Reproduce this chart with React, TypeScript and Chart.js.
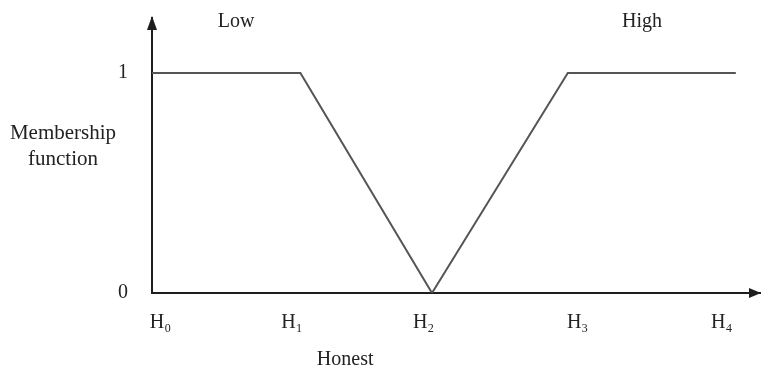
import React, { useEffect, useRef } from "react";
import { Chart, registerables } from "chart.js";

Chart.register(...registerables);

// Data
const lowX = [0, 1.06, 2.0];
const lowY = [1, 1, 0];
const highX = [2.0, 2.97, 4.17];
const highY = [0, 1, 1];
const xTickValues = [0.06, 1.0, 1.94, 3.04, 4.07];
const xTickLabels = ["H₀", "H₁", "H₂", "H₃", "H₄"];
const yTickValues = [0, 1];
const yTickLabels = ["0", "1"];
const setLabels = ["Low", "High"];
const yTitleLines = ["Membership", "function"];
const xTitle = "Honest";

const FONT = "'Liberation Serif', 'Times New Roman', serif";
const AXIS = "#1e1e1e";
const LINE = "#555555";
const TEXT = "#222222";

const decorPlugin = {
  id: "decor",
  afterDraw(chart: any) {
    const ctx = chart.ctx;
    const x = chart.scales.x;
    const y = chart.scales.y;
    const ca = chart.chartArea;
    ctx.save();
    // arrows
    ctx.fillStyle = AXIS;
    ctx.beginPath();
    ctx.moveTo(ca.left, ca.top - 2);
    ctx.lineTo(ca.left - 5, ca.top + 12);
    ctx.lineTo(ca.left + 5, ca.top + 12);
    ctx.closePath();
    ctx.fill();
    ctx.beginPath();
    ctx.moveTo(ca.right, y.getPixelForValue(0));
    ctx.lineTo(ca.right - 12, y.getPixelForValue(0) - 5);
    ctx.lineTo(ca.right - 12, y.getPixelForValue(0) + 5);
    ctx.closePath();
    ctx.fill();
    // texts
    ctx.fillStyle = TEXT;
    ctx.font = `20px ${FONT}`;
    ctx.textAlign = "center";
    ctx.textBaseline = "middle";
    ctx.fillText(setLabels[0], x.getPixelForValue(0.6), 22);
    ctx.fillText(setLabels[1], x.getPixelForValue(3.5), 22);
    ctx.font = `21px ${FONT}`;
    ctx.fillText(yTitleLines[0], 63, y.getPixelForValue(0.727));
    ctx.fillText(yTitleLines[1], 63, y.getPixelForValue(0.605));
    ctx.font = `20px ${FONT}`;
    ctx.fillText(xTitle, x.getPixelForValue(1.38), 360);
    ctx.restore();
  },
};

export default function App() {
  const ref = useRef<HTMLCanvasElement>(null);
  useEffect(() => {
    document.body.style.margin = "0";
    const chart = new Chart(ref.current!, {
      type: "line",
      data: {
        datasets: [
          {
            label: setLabels[0],
            data: lowX.map((v, i) => ({ x: v, y: lowY[i] })),
            borderColor: LINE,
            borderWidth: 2,
            pointRadius: 0,
            tension: 0,
          },
          {
            label: setLabels[1],
            data: highX.map((v, i) => ({ x: v, y: highY[i] })),
            borderColor: LINE,
            borderWidth: 2,
            pointRadius: 0,
            tension: 0,
          },
        ],
      },
      options: {
        animation: false,
        responsive: false,
        maintainAspectRatio: false,
        layout: { padding: { top: 18, right: 0, left: 0, bottom: 0 } },
        plugins: { legend: { display: false }, tooltip: { enabled: false } },
        scales: {
          x: {
            type: "linear",
            min: 0,
            max: 4.35,
            grid: { display: false, drawTicks: false },
            border: { display: true, color: AXIS, width: 2 },
            afterBuildTicks: (s: any) => {
              s.ticks = xTickValues.map((v) => ({ value: v }));
            },
            afterFit: (s: any) => {
              s.height = 83;
              s.paddingLeft = 0;
              s.paddingRight = 0;
            },
            ticks: {
              autoSkip: false,
              maxRotation: 0,
              padding: 18,
              color: TEXT,
              font: { family: FONT, size: 20 },
              callback: (_v: any, i: number) => xTickLabels[i],
            },
          },
          y: {
            type: "linear",
            min: 0,
            max: 1.25,
            grid: { display: false, drawTicks: false },
            border: { display: true, color: AXIS, width: 2 },
            afterBuildTicks: (s: any) => {
              s.ticks = yTickValues.map((v) => ({ value: v }));
            },
            afterFit: (s: any) => {
              s.width = 152;
              s.paddingTop = 0;
              s.paddingBottom = 0;
            },
            ticks: {
              padding: 24,
              color: TEXT,
              font: { family: FONT, size: 20 },
              callback: (_v: any, i: number) => yTickLabels[i],
            },
          },
        },
      },
      plugins: [decorPlugin],
    } as any);
    return () => chart.destroy();
  }, []);
  return (
    <div style={{ position: "absolute", left: 0, top: 0, width: 761, height: 376, background: "#fff" }}>
      <canvas ref={ref} width={761} height={376} />
    </div>
  );
}
